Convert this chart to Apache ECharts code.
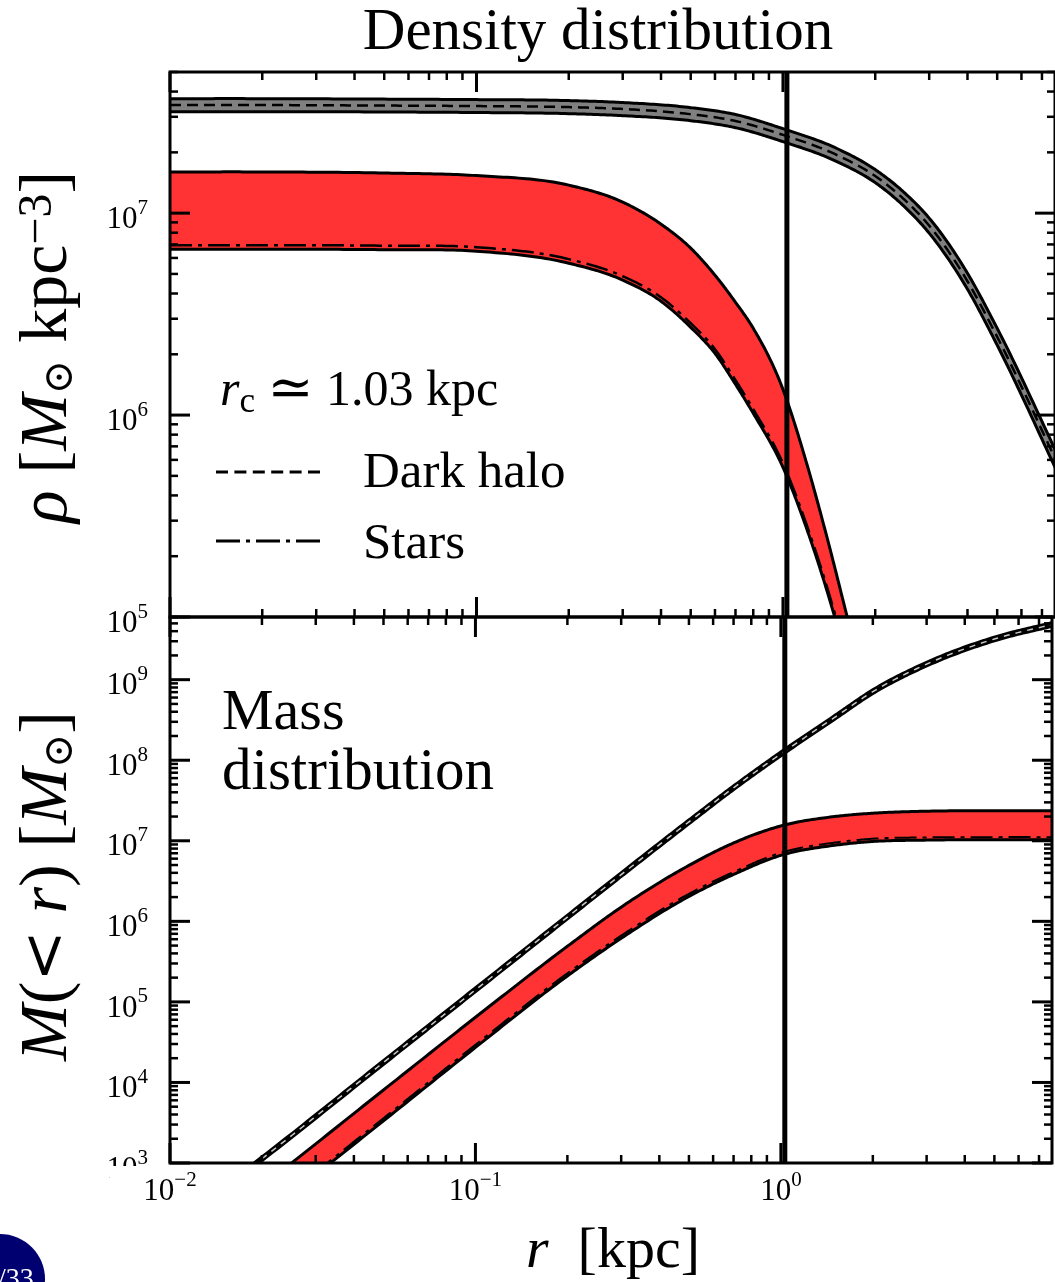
<!DOCTYPE html>
<html>
<head>
<meta charset="utf-8">
<script src="https://cdn.jsdelivr.net/npm/echarts@6/dist/echarts.min.js"></script>
<style>
  html, body { margin: 0; padding: 0; background: #fff; }
  #chart { width: 1055px; height: 1282px; }
</style>
</head>
<body>
<div id="chart"></div>
<script>
// ---- density profiles rho(r) [M_sun kpc^-3] ----
const rDark = [0.01, 0.02, 0.05, 0.1, 0.2, 0.3, 0.5, 0.7, 1, 1.5, 2, 2.5, 3, 4, 5, 8];
const rhoDarkHigh = [3.69e7, 3.69e7, 3.67e7, 3.65e7, 3.61e7, 3.53e7, 3.33e7, 3.08e7, 2.62e7, 2.09e7, 1.643e7, 1.256e7, 9.45e6, 5.04e6, 2.69e6, 6.04e5];
const rhoDarkMid  = [3.43e7, 3.43e7, 3.41e7, 3.39e7, 3.35e7, 3.28e7, 3.09e7, 2.86e7, 2.44e7, 1.94e7, 1.526e7, 1.160e7, 8.67e6, 4.60e6, 2.44e6, 5.45e5];
const rhoDarkLow  = [3.18e7, 3.18e7, 3.17e7, 3.15e7, 3.11e7, 3.04e7, 2.87e7, 2.65e7, 2.26e7, 1.80e7, 1.416e7, 1.071e7, 7.96e6, 4.20e6, 2.22e6, 4.92e5];

const rStars = [0.01, 0.02, 0.05, 0.1, 0.2, 0.3, 0.4, 0.5, 0.6, 0.7, 0.8, 1.0, 1.2, 1.4, 1.6, 1.8];
const rhoStarsHigh = [1.60e7, 1.60e7, 1.58e7, 1.534e7, 1.376e7, 1.134e7, 8.82e6, 6.71e6, 4.93e6, 3.62e6, 2.69e6, 1.34e6, 5.64e5, 2.40e5, 1.08e5, 5.31e4];
const rhoStarsMid  = [6.94e6, 6.94e6, 6.90e6, 6.78e6, 5.92e6, 4.87e6, 3.83e6, 2.85e6, 2.12e6, 1.49e6, 1.07e6, 5.77e5, 2.81e5, 1.37e5, 6.75e4, 3.52e4];
const rhoStarsLow  = [6.63e6, 6.63e6, 6.59e6, 6.48e6, 5.65e6, 4.66e6, 3.66e6, 2.72e6, 2.02e6, 1.42e6, 1.02e6, 5.51e5, 2.69e5, 1.31e5, 6.45e4, 3.37e4];

// ---- enclosed mass M(<r) [M_sun] ----
const rMass = [0.015, 0.02, 0.05, 0.1, 0.2, 0.3, 0.5, 0.7, 1, 1.5, 2, 3, 5, 8];
const massDarkHigh = [5.13e2, 1.18e3, 1.85e4, 1.48e5, 1.18e6, 3.98e6, 1.80e7, 4.76e7, 1.256e8, 3.56e8, 7.43e8, 1.63e9, 3.35e9, 5.24e9];
const massDarkMid  = [4.90e2, 1.13e3, 1.77e4, 1.41e5, 1.13e6, 3.80e6, 1.72e7, 4.55e7, 1.20e8, 3.40e8, 7.10e8, 1.56e9, 3.20e9, 5.00e9];
const massDarkLow  = [4.68e2, 1.08e3, 1.69e4, 1.35e5, 1.08e6, 3.63e6, 1.64e7, 4.35e7, 1.146e8, 3.25e8, 6.78e8, 1.49e9, 3.06e9, 4.78e9];
const massStarsHigh = [2.26e2, 5.18e2, 8.07e3, 6.44e4, 4.90e5, 1.50e6, 4.95e6, 9.40e6, 1.53e7, 2.00e7, 2.20e7, 2.33e7, 2.36e7, 2.36e7];
const massStarsMid  = [1.01e2, 2.32e2, 3.60e3, 2.94e4, 2.27e5, 6.65e5, 2.20e6, 4.10e6, 7.10e6, 9.50e6, 1.06e7, 1.10e7, 1.11e7, 1.11e7];
const massStarsLow  = [94, 2.15e2, 3.34e3, 2.72e4, 2.10e5, 6.16e5, 2.04e6, 3.82e6, 6.60e6, 8.80e6, 9.80e6, 1.02e7, 1.03e7, 1.03e7];

// core radius of the stellar profile [kpc]
const rCore = 1.03;

// axis ranges and decade exponents used for tick labels
const rRange = [0.01, 7.72];
const rhoRange = [1e5, 5e7];
const massRange = [1e3, 6e9];
const rTickExps = [-2, -1, 0];
const rhoTickExps = [5, 6, 7];
const massTickExps = [3, 4, 5, 6, 7, 8, 9];

const FONT = "'Liberation Serif','DejaVu Serif',serif";
const RED = '#ff3333';
const GREY = '#808080';

// major ticks at powers of ten, minor ticks at 2..9 times each decade
function logTicks(lo, hi) {
  const major = [], minor = [];
  for (let e = Math.floor(Math.log10(lo)); e <= Math.ceil(Math.log10(hi)); e++) {
    for (let m = 1; m <= 9; m++) {
      const v = m * Math.pow(10, e);
      if (v < lo * 0.999 || v > hi * 1.001) continue;
      (m === 1 ? major : minor).push(v);
    }
  }
  return { major, minor };
}

function expLabel(exps) {
  return function (v) {
    const e = Math.round(Math.log10(v));
    if (Math.abs(Math.log10(v) - e) > 1e-6 || exps.indexOf(e) < 0) return '';
    return '{b|10}{s|' + (e < 0 ? '\u2212' + (-e) : e) + '}';
  };
}

const labelRich = {
  b: { fontFamily: FONT, fontSize: 31, lineHeight: 31, padding: [13, 0, 0, 0], color: '#000' },
  s: { fontFamily: FONT, fontSize: 21, lineHeight: 21, verticalAlign: 'top', color: '#000' }
};

// smooth curve through the projected points (cubic Hermite, sampled as a polyline)
function screenCurve(api, xs, ys) {
  const p = xs.map((x, i) => api.coord([x, ys[i]]));
  const n = p.length, d = [], s = [], m = [];
  for (let i = 0; i < n - 1; i++) {
    d[i] = p[i + 1][0] - p[i][0];
    s[i] = (p[i + 1][1] - p[i][1]) / d[i];
  }
  m[0] = s[0]; m[n - 1] = s[n - 2];
  for (let i = 1; i < n - 1; i++) {
    if (s[i - 1] * s[i] < 0) { m[i] = 0; continue; }
    m[i] = (s[i - 1] * d[i] + s[i] * d[i - 1]) / (d[i - 1] + d[i]);
  }
  const out = [p[0]];
  const steps = 24;
  for (let i = 0; i < n - 1; i++) {
    const x0 = p[i][0], y0 = p[i][1], x3 = p[i + 1][0], y3 = p[i + 1][1];
    const x1 = x0 + d[i] / 3, y1 = y0 + m[i] * d[i] / 3;
    const x2 = x3 - d[i] / 3, y2 = y3 - m[i + 1] * d[i] / 3;
    for (let k = 1; k <= steps; k++) {
      const t = k / steps, u = 1 - t;
      out.push([
        u * u * u * x0 + 3 * u * u * t * x1 + 3 * u * t * t * x2 + t * t * t * x3,
        u * u * u * y0 + 3 * u * u * t * y1 + 3 * u * t * t * y2 + t * t * t * y3
      ]);
    }
  }
  return out;
}

// a shaded band between two curves, outlined in black
function bandSeries(axis, xs, lo, hi, fill, edge) {
  return {
    type: 'custom', xAxisIndex: axis, yAxisIndex: axis, clip: true, silent: true, animation: false, z: 2,
    data: [[xs[0], lo[0]]],
    renderItem: function (params, api) {
      const top = screenCurve(api, xs, hi);
      const bot = screenCurve(api, xs, lo);
      return {
        type: 'group',
        children: [
          { type: 'polygon', shape: { points: top.concat(bot.slice().reverse()) }, style: { fill, stroke: null } },
          { type: 'polyline', shape: { points: top }, style: { stroke: '#000', lineWidth: edge, fill: null } },
          { type: 'polyline', shape: { points: bot }, style: { stroke: '#000', lineWidth: edge, fill: null } }
        ]
      };
    }
  };
}

function curveSeries(axis, xs, ys, color, width, dash) {
  return {
    type: 'custom', xAxisIndex: axis, yAxisIndex: axis, clip: true, silent: true, animation: false, z: 4,
    data: [[xs[0], ys[0]]],
    renderItem: function (params, api) {
      return {
        type: 'polyline', shape: { points: screenCurve(api, xs, ys) },
        style: { stroke: color, lineWidth: width, lineDash: dash, fill: null }
      };
    }
  };
}

function coreLine(axis, yr) {
  return {
    type: 'line', xAxisIndex: axis, yAxisIndex: axis,
    data: [[rCore, yr[0]], [rCore, yr[1]]], symbol: 'none', silent: true, animation: false,
    lineStyle: { color: '#000', width: 5 }, z: 5
  };
}

// inward ticks on all four sides of a panel
function tickSeries(axis, yr) {
  const xt = logTicks(rRange[0], rRange[1]);
  const yt = logTicks(yr[0], yr[1]);
  const data = [];
  xt.major.forEach(v => { data.push([v, yr[0], 0, 1]); data.push([v, yr[1], 1, 1]); });
  xt.minor.forEach(v => { data.push([v, yr[0], 0, 0]); data.push([v, yr[1], 1, 0]); });
  yt.major.forEach(v => { data.push([rRange[0], v, 2, 1]); data.push([rRange[1], v, 3, 1]); });
  yt.minor.forEach(v => { data.push([rRange[0], v, 2, 0]); data.push([rRange[1], v, 3, 0]); });
  return {
    type: 'custom', xAxisIndex: axis, yAxisIndex: axis, silent: true, animation: false, z: 6,
    data,
    renderItem: function (params, api) {
      const p = api.coord([api.value(0), api.value(1)]);
      const side = api.value(2), major = api.value(3);
      const len = major ? 20 : 8;
      let x2 = p[0], y2 = p[1];
      if (side === 0) y2 -= len; else if (side === 1) y2 += len;
      else if (side === 2) x2 += len; else x2 -= len;
      return {
        type: 'line', shape: { x1: p[0], y1: p[1], x2, y2 },
        style: { stroke: '#000', lineWidth: major ? 3 : 2.5 }
      };
    }
  };
}

const series = [
  bandSeries(0, rDark, rhoDarkLow, rhoDarkHigh, GREY, 3),
  curveSeries(0, rDark, rhoDarkMid, '#000', 2.5, [11, 6]),
  bandSeries(0, rStars, rhoStarsLow, rhoStarsHigh, RED, 3),
  curveSeries(0, rStars, rhoStarsMid, '#000', 2.5, [22, 6, 4, 6]),
  coreLine(0, rhoRange), tickSeries(0, rhoRange),
  bandSeries(1, rMass, massDarkLow, massDarkHigh, GREY, 3.5),
  curveSeries(1, rMass, massDarkMid, '#c8c8c8', 1.5, [6, 6]),
  bandSeries(1, rMass, massStarsLow, massStarsHigh, RED, 3),
  curveSeries(1, rMass, massStarsMid, '#000', 2, [22, 6, 4, 6]),
  coreLine(1, massRange), tickSeries(1, massRange)
];

function xAxisFor(idx, showLabels) {
  return {
    type: 'log', gridIndex: idx, min: rRange[0], max: rRange[1], logBase: 10, z: 10,
    axisLine: { show: false }, axisTick: { show: false }, splitLine: { show: false },
    minorTick: { show: false },
    axisLabel: {
      show: showLabels, margin: 3, formatter: expLabel(rTickExps), rich: labelRich,
      backgroundColor: '#fff', padding: [4, 34, 2, 34]
    }
  };
}
function yAxisFor(idx, yr, exps) {
  return {
    type: 'log', gridIndex: idx, min: yr[0], max: yr[1], logBase: 10, z: 2,
    axisLine: { show: false }, axisTick: { show: false }, splitLine: { show: false },
    axisLabel: { margin: 22, formatter: expLabel(exps), rich: labelRich }
  };
}

const big = (size) => ({
  n: { fontFamily: FONT, fontSize: size, color: '#000' },
  i: { fontFamily: FONT, fontSize: size, fontStyle: 'italic', color: '#000' },
  sub: { fontFamily: 'DejaVu Serif', fontSize: Math.round(size * 0.6), verticalAlign: 'bottom', lineHeight: Math.round(size * 0.95), color: '#000' },
  subc: { fontFamily: FONT, fontSize: Math.round(size * 0.7), verticalAlign: 'bottom', lineHeight: Math.round(size * 1.15), color: '#000' },
  sup: { fontFamily: FONT, fontSize: Math.round(size * 0.7), verticalAlign: 'top', lineHeight: Math.round(size * 0.75), color: '#000' },
  sym: { fontFamily: 'DejaVu Serif', fontSize: Math.round(size * 0.9), color: '#000' },
  rel: { fontFamily: 'DejaVu Serif', fontSize: Math.round(size * 1.1), color: '#000' }
});

function label(x, y, text, size, opts) {
  return Object.assign({
    type: 'text', x, y, silent: true, z: 20,
    style: { text, rich: big(size), fill: '#000', align: 'left', verticalAlign: 'middle', fontFamily: FONT }
  }, opts || {});
}
function centred(x, y, text, size, opts) {
  const el = label(x, y, text, size, opts);
  el.style.align = 'center';
  return el;
}

const graphic = [
  centred(598, 33, '{n|Density distribution}', 59),
  centred(48, 347, '{i|\u03c1}{n| [}{i|M}{sub|\u2299}{n| kpc}{sup|\u22123}{n|]}', 68, { rotation: Math.PI / 2 }),
  centred(48, 886, '{i|M}{n|(}{sym|<}{n| }{i|r}{n|) [}{i|M}{sub|\u2299}{n|]}', 68, { rotation: Math.PI / 2 }),
  centred(613, 1252, '{i|r}{n|  [kpc]}', 58),
  label(220, 392, '{i|r}{subc|c}{n| }{rel|\u2243}{n| 1.03 kpc}', 50),
  { type: 'line', silent: true, z: 20, shape: { x1: 216, y1: 472, x2: 320, y2: 472 }, style: { stroke: '#000', lineWidth: 3, lineDash: [12, 6.4] } },
  { type: 'line', silent: true, z: 20, shape: { x1: 216, y1: 541, x2: 320, y2: 541 }, style: { stroke: '#000', lineWidth: 3, lineDash: [24, 6, 4, 6] } },
  label(363, 474, '{n|Dark halo}', 51),
  label(363, 545, '{n|Stars}', 51),
  label(222, 714, '{n|Mass}', 58),
  label(222, 773, '{n|distribution}', 59),
  { type: 'circle', silent: true, z: 20, shape: { cx: 0, cy: 1279, r: 45 }, style: { fill: '#000070' } },
  { type: 'text', silent: true, z: 21, x: -2, y: 1266, style: { text: '/33', fill: '#fff', fontFamily: FONT, fontSize: 28, align: 'left', verticalAlign: 'top' } }
];

const chart = echarts.init(document.getElementById('chart'), null, { renderer: 'canvas' });
chart.setOption({
  animation: false,
  backgroundColor: '#fff',
  grid: [
    { left: 170, top: 72, width: 888, height: 545, show: true, borderColor: '#000', borderWidth: 3, backgroundColor: 'transparent', z: 7 },
    { left: 170, top: 617, width: 888, height: 546, show: true, borderColor: '#000', borderWidth: 3, backgroundColor: 'transparent', z: 7 }
  ],
  xAxis: [xAxisFor(0, false), xAxisFor(1, true)],
  yAxis: [yAxisFor(0, rhoRange, rhoTickExps), yAxisFor(1, massRange, massTickExps)],
  series,
  graphic
});
</script>
</body>
</html>
